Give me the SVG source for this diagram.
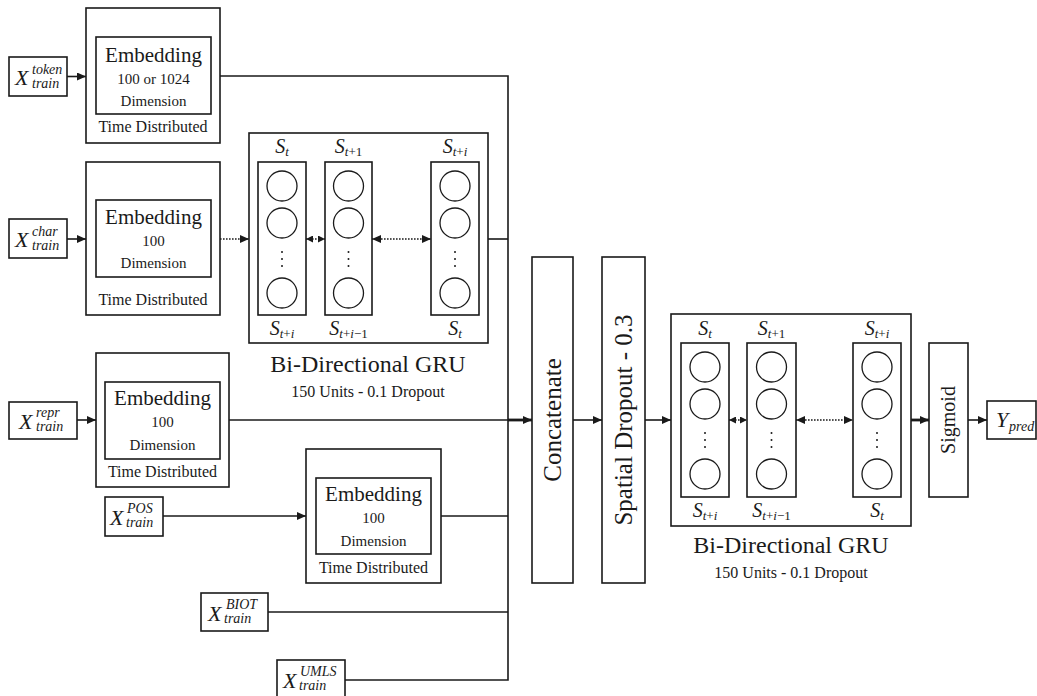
<svg xmlns="http://www.w3.org/2000/svg" width="1037" height="696" viewBox="0 0 1037 696">
<style>
.bx{fill:#fff;stroke:#1a1a1a;stroke-width:1.6}
.c{fill:none;stroke:#1a1a1a;stroke-width:1.3}
.ln{fill:none;stroke:#1a1a1a;stroke-width:1.6}
.dot{fill:none;stroke:#1a1a1a;stroke-width:1.6;stroke-dasharray:1.6 1.4}
.thick{fill:none;stroke:#1a1a1a;stroke-width:2.8}
text{font-family:"Liberation Serif","Times New Roman",serif;fill:#1a1a1a}
.emb{font-size:21px;text-anchor:middle}
.dim{font-size:15px;text-anchor:middle}
.td{font-size:16px;text-anchor:middle}
.X{font-size:22px;font-style:italic}
.sc{font-size:14px;font-style:italic}
.S{font-size:20px;font-style:italic;text-anchor:middle}
.sub{font-size:13px}
.big{font-size:24px;text-anchor:middle}
.units{font-size:16px;text-anchor:middle}
.rot{font-size:25px;text-anchor:middle}
.vd{fill:#1a1a1a}
</style>
<defs>
<marker id="ah" markerUnits="userSpaceOnUse" markerWidth="9" markerHeight="8" refX="9" refY="4" orient="auto-start-reverse">
<path d="M0,0 L9,4 L0,8 z" fill="#1a1a1a"/>
</marker>
<marker id="ahs" markerUnits="userSpaceOnUse" markerWidth="7" markerHeight="7" refX="7" refY="3.5" orient="auto-start-reverse">
<path d="M0,0 L7,3.5 L0,7 z" fill="#1a1a1a"/>
</marker>
</defs>

<g id="x-token">
<rect class="bx" x="9" y="57" width="58" height="39"/>
<text class="X" x="15" y="85">X</text>
<text class="sc" x="32" y="74">token</text>
<text class="sc" x="32" y="88">train</text>
</g>
<g id="x-char">
<rect class="bx" x="9" y="219" width="58" height="39"/>
<text class="X" x="15" y="247">X</text>
<text class="sc" x="32" y="236">char</text>
<text class="sc" x="32" y="250">train</text>
</g>
<g id="x-repr">
<rect class="bx" x="9" y="402" width="68" height="37"/>
<text class="X" x="19" y="429">X</text>
<text class="sc" x="36" y="417">repr</text>
<text class="sc" x="36" y="431">train</text>
</g>
<g id="x-pos">
<rect class="bx" x="105" y="497" width="58" height="39"/>
<text class="X" x="110" y="525">X</text>
<text class="sc" x="127" y="513">POS</text>
<text class="sc" x="126" y="527">train</text>
</g>
<g id="x-biot">
<rect class="bx" x="201" y="593" width="67" height="38"/>
<text class="X" x="208" y="621">X</text>
<text class="sc" x="226" y="609">BIOT</text>
<text class="sc" x="224" y="623">train</text>
</g>
<g id="x-umls">
<rect class="bx" x="277" y="660" width="68" height="38"/>
<text class="X" x="283" y="688">X</text>
<text class="sc" x="300" y="676">UMLS</text>
<text class="sc" x="299" y="690">train</text>
</g>

<g id="emb-token">
<rect class="bx" x="86" y="8" width="134" height="135"/>
<rect class="bx" x="96" y="37" width="115" height="77"/>
<text class="emb" x="153.5" y="62">Embedding</text>
<text class="dim" x="153.5" y="84">100 or 1024</text>
<text class="dim" x="153.5" y="106">Dimension</text>
<text class="td" x="153" y="132">Time Distributed</text>
</g>
<g id="emb-char">
<rect class="bx" x="86" y="162" width="134" height="153"/>
<rect class="bx" x="96" y="200" width="115" height="77"/>
<text class="emb" x="153.5" y="224">Embedding</text>
<text class="dim" x="153.5" y="246">100</text>
<text class="dim" x="153.5" y="268">Dimension</text>
<text class="td" x="153" y="305">Time Distributed</text>
</g>
<g id="emb-repr">
<rect class="bx" x="96" y="353" width="133" height="134"/>
<rect class="bx" x="105" y="382" width="115" height="77"/>
<text class="emb" x="162.5" y="405">Embedding</text>
<text class="dim" x="162.5" y="427">100</text>
<text class="dim" x="162.5" y="450">Dimension</text>
<text class="td" x="162.5" y="477">Time Distributed</text>
</g>
<g id="emb-pos">
<rect class="bx" x="306" y="449" width="135" height="134"/>
<rect class="bx" x="316" y="478" width="115" height="76"/>
<text class="emb" x="373.5" y="501">Embedding</text>
<text class="dim" x="373.5" y="523">100</text>
<text class="dim" x="373.5" y="546">Dimension</text>
<text class="td" x="373.5" y="573">Time Distributed</text>
</g>

<g id="gru1">
<rect class="bx" x="249" y="133" width="239" height="210"/>
<rect class="bx" x="258" y="162" width="48" height="153"/>
<rect class="bx" x="325" y="162" width="47" height="153"/>
<rect class="bx" x="431" y="162" width="48" height="153"/>
<circle class="c" cx="282" cy="186" r="15"/>
<circle class="c" cx="282" cy="223" r="15"/>
<circle class="c" cx="282" cy="293" r="15"/>
<circle class="c" cx="348.5" cy="186" r="15"/>
<circle class="c" cx="348.5" cy="223" r="15"/>
<circle class="c" cx="348.5" cy="293" r="15"/>
<circle class="c" cx="455" cy="186" r="15"/>
<circle class="c" cx="455" cy="223" r="15"/>
<circle class="c" cx="455" cy="293" r="15"/>
<circle class="vd" cx="282" cy="252" r="1"/><circle class="vd" cx="282" cy="259" r="1"/><circle class="vd" cx="282" cy="266" r="1"/>
<circle class="vd" cx="348.5" cy="252" r="1"/><circle class="vd" cx="348.5" cy="259" r="1"/><circle class="vd" cx="348.5" cy="266" r="1"/>
<circle class="vd" cx="455" cy="252" r="1"/><circle class="vd" cx="455" cy="259" r="1"/><circle class="vd" cx="455" cy="266" r="1"/>
<text class="S" x="282" y="153">S<tspan class="sub" dy="3">t</tspan></text>
<text class="S" x="348.5" y="153">S<tspan class="sub" dy="3">t</tspan><tspan class="sub" font-style="normal">+1</tspan></text>
<text class="S" x="455" y="153">S<tspan class="sub" dy="3">t</tspan><tspan class="sub" font-style="normal">+</tspan><tspan class="sub">i</tspan></text>
<text class="S" x="282" y="335">S<tspan class="sub" dy="3">t</tspan><tspan class="sub" font-style="normal">+</tspan><tspan class="sub">i</tspan></text>
<text class="S" x="348.5" y="335">S<tspan class="sub" dy="3">t</tspan><tspan class="sub" font-style="normal">+</tspan><tspan class="sub">i</tspan><tspan class="sub" font-style="normal">−1</tspan></text>
<text class="S" x="455" y="335">S<tspan class="sub" dy="3">t</tspan></text>
<text class="big" x="368" y="372">Bi-Directional GRU</text>
<text class="units" x="368" y="397">150 Units - 0.1 Dropout</text>
</g>

<g id="concatenate">
<rect class="bx" x="532" y="257" width="41" height="326"/>
<text class="rot" transform="translate(561,420) rotate(-90)">Concatenate</text>
</g>
<g id="dropout">
<rect class="bx" x="602" y="257" width="43" height="326"/>
<text class="rot" transform="translate(632,420) rotate(-90)">Spatial  Dropout - 0.3</text>
</g>

<g id="gru2">
<rect class="bx" x="671" y="314" width="240" height="212"/>
<rect class="bx" x="681" y="343" width="48" height="154"/>
<rect class="bx" x="747" y="343" width="49" height="154"/>
<rect class="bx" x="853" y="343" width="48" height="154"/>
<circle class="c" cx="705" cy="367" r="15"/>
<circle class="c" cx="705" cy="404" r="15"/>
<circle class="c" cx="705" cy="474" r="15"/>
<circle class="c" cx="771.5" cy="367" r="15"/>
<circle class="c" cx="771.5" cy="404" r="15"/>
<circle class="c" cx="771.5" cy="474" r="15"/>
<circle class="c" cx="877" cy="367" r="15"/>
<circle class="c" cx="877" cy="404" r="15"/>
<circle class="c" cx="877" cy="474" r="15"/>
<circle class="vd" cx="705" cy="433" r="1"/><circle class="vd" cx="705" cy="440" r="1"/><circle class="vd" cx="705" cy="447" r="1"/>
<circle class="vd" cx="771.5" cy="433" r="1"/><circle class="vd" cx="771.5" cy="440" r="1"/><circle class="vd" cx="771.5" cy="447" r="1"/>
<circle class="vd" cx="877" cy="433" r="1"/><circle class="vd" cx="877" cy="440" r="1"/><circle class="vd" cx="877" cy="447" r="1"/>
<text class="S" x="705" y="335">S<tspan class="sub" dy="3">t</tspan></text>
<text class="S" x="771.5" y="335">S<tspan class="sub" dy="3">t</tspan><tspan class="sub" font-style="normal">+1</tspan></text>
<text class="S" x="877" y="335">S<tspan class="sub" dy="3">t</tspan><tspan class="sub" font-style="normal">+</tspan><tspan class="sub">i</tspan></text>
<text class="S" x="705" y="517">S<tspan class="sub" dy="3">t</tspan><tspan class="sub" font-style="normal">+</tspan><tspan class="sub">i</tspan></text>
<text class="S" x="771.5" y="517">S<tspan class="sub" dy="3">t</tspan><tspan class="sub" font-style="normal">+</tspan><tspan class="sub">i</tspan><tspan class="sub" font-style="normal">−1</tspan></text>
<text class="S" x="877" y="517">S<tspan class="sub" dy="3">t</tspan></text>
<text class="big" x="791" y="553">Bi-Directional GRU</text>
<text class="units" x="791" y="578">150 Units - 0.1 Dropout</text>
</g>

<g id="sigmoid">
<rect class="bx" x="929" y="343" width="39" height="154"/>
<text class="rot" style="font-size:20px" transform="translate(955,420) rotate(-90)">Sigmoid</text>
</g>
<g id="y-pred">
<rect class="bx" x="987" y="401" width="49" height="38"/>
<text class="X" x="996" y="427">Y</text>
<text class="sc" x="1009" y="431">pred</text>
</g>

<g id="connectors">
<path class="ln" d="M67,76.5 H86" marker-end="url(#ah)"/>
<path class="ln" d="M67,239 H86" marker-end="url(#ah)"/>
<path class="ln" d="M77,420 H96" marker-end="url(#ah)"/>
<path class="ln" d="M163,516 H306" marker-end="url(#ah)"/>
<path class="ln" d="M220,76 H508 V680 H345"/>
<path class="dot" d="M220,239 H249" marker-end="url(#ah)"/>
<path class="ln" d="M488,239 H508"/>
<path class="ln" d="M229,420 H508"/>
<path class="thick" d="M508,420 H532" marker-end="url(#ah)"/>
<path class="ln" d="M441,516 H508"/>
<path class="ln" d="M268,612 H508"/>
<path class="ln" d="M573,420 H602" marker-end="url(#ah)"/>
<path class="ln" d="M645,420 H671" marker-end="url(#ah)"/>
<path class="thick" d="M911,420 H929" marker-end="url(#ah)"/>
<path class="ln" d="M968,420 H987" marker-end="url(#ah)"/>
<path class="dot" d="M306,239 H325" marker-start="url(#ahs)" marker-end="url(#ahs)"/>
<path class="dot" d="M372,239 H431" marker-start="url(#ah)" marker-end="url(#ah)"/>
<path class="dot" d="M729,420 H747" marker-start="url(#ahs)" marker-end="url(#ahs)"/>
<path class="dot" d="M796,420 H853" marker-start="url(#ah)" marker-end="url(#ah)"/>
</g>
</svg>
